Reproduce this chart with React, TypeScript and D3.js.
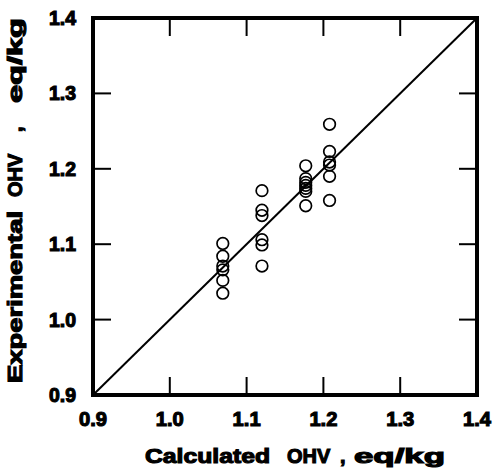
import React from "react";
import * as d3 from "d3";

const xTicks = [0.9, 1.0, 1.1, 1.2, 1.3, 1.4];
const yTicks = [0.9, 1.0, 1.1, 1.2, 1.3, 1.4];
const innerTicks = [1.0, 1.1, 1.2, 1.3];

const calcX = [1.069, 1.12, 1.177, 1.208];
const col1 = [1.101, 1.084, 1.071, 1.066, 1.052, 1.035];
const col2 = [1.171, 1.145, 1.138, 1.106, 1.099, 1.071];
const col3 = [1.204, 1.187, 1.182, 1.178, 1.174, 1.17, 1.151];
const col4 = [1.259, 1.223, 1.209, 1.205, 1.19, 1.158];
const experimental = [col1, col2, col3, col4];

const xTitleWords = ["Calculated", "OHV", ",", "eq/kg"];
const yTitleWords = ["Experimental", "OHV", ",", "eq/kg"];

export default function App() {
  const W = 495, H = 469;
  const left = 93, right = 477, top = 18, bottom = 395;
  const x = d3.scaleLinear().domain([0.9, 1.4]).range([left, right]);
  const y = d3.scaleLinear().domain([0.9, 1.4]).range([bottom, top]);
  const font = "'Liberation Sans', Arial, Helvetica, sans-serif";
  const tl = 18;

  const points: { cx: number; cy: number }[] = [];
  experimental.forEach((col, i) => col.forEach((v) => points.push({ cx: x(calcX[i]), cy: y(v) })));

  const line = d3.line<[number, number]>().x((d) => x(d[0])).y((d) => y(d[1]));

  const xWordPos = [[145, 125], [287, 0], [340, 0], [354, 91]];
  const yWordPos = [[383, 172], [197, 0], [132, 0], [103, 85]];

  const textStyle = {
    fontFamily: font,
    fontWeight: 700 as const,
    stroke: "#000",
    strokeWidth: 1.1,
    fill: "#000",
  };

  return (
    <svg width={W} height={H} style={{ position: "absolute", left: 0, top: 0, background: "#fff" }}>
      <rect x={0} y={0} width={W} height={H} fill="#fff" />
      <path d={line([[0.9, 0.9], [1.4, 1.4]]) || ""} stroke="#000" strokeWidth={2} fill="none" />
      {innerTicks.map((t) => (
        <g key={"t" + t} stroke="#000" strokeWidth={2}>
          <line x1={x(t)} x2={x(t)} y1={bottom} y2={bottom - tl} />
          <line x1={x(t)} x2={x(t)} y1={top} y2={top + tl} />
          <line x1={left} x2={left + tl} y1={y(t)} y2={y(t)} />
          <line x1={right} x2={right - tl} y1={y(t)} y2={y(t)} />
        </g>
      ))}
      <rect x={left} y={top} width={right - left} height={bottom - top} fill="none" stroke="#000" strokeWidth={4} />
      {points.map((p, i) => (
        <circle key={i} cx={p.cx} cy={p.cy} r={5.8} fill="none" stroke="#000" strokeWidth={1.7} />
      ))}
      {xTicks.map((t) => (
        <text key={"xl" + t} x={x(t) - 14} y={426} fontSize={19.5} style={textStyle}
          textLength={28} lengthAdjust="spacingAndGlyphs">
          {t.toFixed(1)}
        </text>
      ))}
      {yTicks.map((t) => (
        <text key={"yl" + t} x={49} y={y(t) + 7} fontSize={19.5} style={textStyle}
          textLength={27} lengthAdjust="spacingAndGlyphs">
          {t.toFixed(1)}
        </text>
      ))}
      {xTitleWords.map((w, i) => (
        <text
          key={"xw" + i}
          x={xWordPos[i][0]}
          y={463}
          fontSize={20}
          style={textStyle}
          textLength={xWordPos[i][1] ? xWordPos[i][1] : undefined}
          lengthAdjust="spacingAndGlyphs"
        >
          {w}
        </text>
      ))}
      {yTitleWords.map((w, i) => (
        <text
          key={"yw" + i}
          transform={`translate(22,${yWordPos[i][0]}) rotate(-90)`}
          fontSize={20}
          style={textStyle}
          textLength={yWordPos[i][1] ? yWordPos[i][1] : undefined}
          lengthAdjust="spacingAndGlyphs"
        >
          {w}
        </text>
      ))}
    </svg>
  );
}
